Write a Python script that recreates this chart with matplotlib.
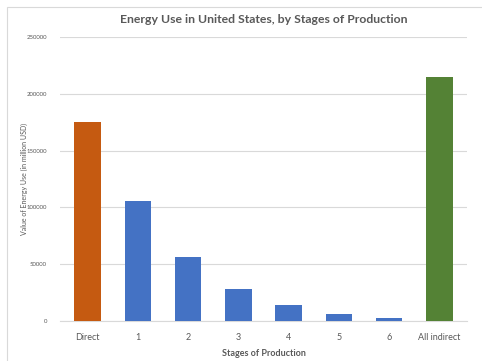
import matplotlib
matplotlib.use('Agg')
import matplotlib.pyplot as plt
from matplotlib.patches import Rectangle

categories = ['Direct', '1', '2', '3', '4', '5', '6', 'All indirect']
values = [175500, 105500, 56500, 28000, 13800, 6000, 2700, 215000]
colors = ['#C55A11', '#4472C4', '#4472C4', '#4472C4', '#4472C4', '#4472C4', '#4472C4', '#548235']

plt.rcParams['font.family'] = ['Lato', 'DejaVu Sans']

fig = plt.figure(figsize=(4.82, 3.61), dpi=100)
fig.patches.append(Rectangle((7/482, -0.1), 1.1, 1 - 7/361 + 0.1, transform=fig.transFigure,
                             fill=False, edgecolor='#D9D9D9', lw=0.8))
ax = fig.add_axes([60/482, 1 - 321/361, 407/482, 284/361])

x = range(len(categories))
ax.bar(x, values, width=0.53, color=colors, zorder=3)
ax.set_xlim(-0.55, 7.55)
ax.set_ylim(0, 250000)
ax.set_yticks([0, 50000, 100000, 150000, 200000, 250000])
ax.set_xticks(list(x))
ax.set_xticklabels(categories)
ax.grid(axis='y', color='#D9D9D9', lw=0.8, zorder=0)
for s in ['top', 'right', 'left']:
    ax.spines[s].set_visible(False)
ax.spines['bottom'].set_color('#D9D9D9')
ax.tick_params(axis='both', length=0, colors='#595959')
ax.tick_params(axis='y', labelsize=4.3, pad=9.5)
ax.tick_params(axis='x', labelsize=6.5, pad=9)

ax.set_title('Energy Use in United States, by Stages of Production', fontsize=8.8,
             fontweight='bold', color='#595959', pad=10)
ax.set_xlabel('Stages of Production', fontsize=6.5, fontweight='bold', color='#595959', labelpad=5)
ax.set_ylabel('Value of Energy Use (in million USD)', fontsize=5.0, color='#595959')
ax.yaxis.set_label_coords(-32/407, 0.5)

plt.savefig('out.png', dpi=100)
